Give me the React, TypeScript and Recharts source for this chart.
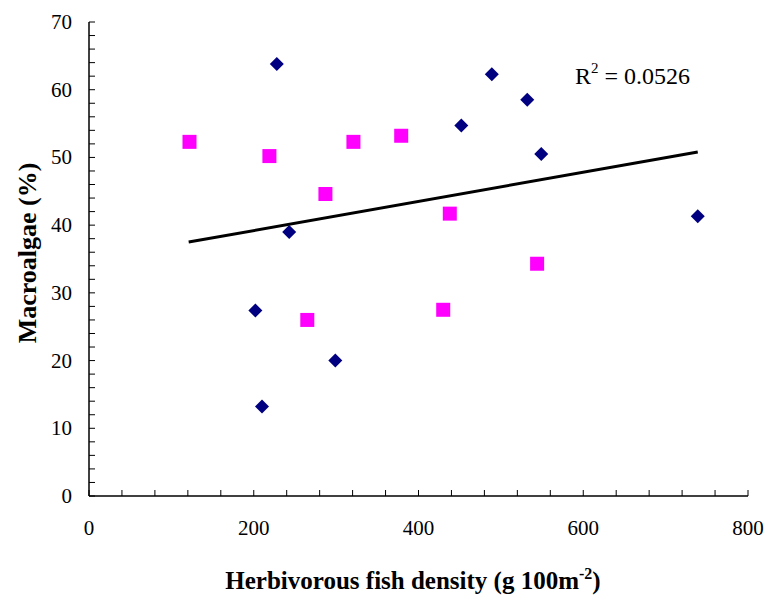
import React from "react";
import { ScatterChart, Scatter, XAxis, YAxis } from "recharts";

// Series 1 (navy diamonds)
const diamondX = [228, 489, 532, 452, 549, 739, 243, 202, 210, 299];
const diamondY = [63.8, 62.3, 58.5, 54.7, 50.5, 41.3, 39.0, 27.4, 13.2, 20.0];
// Series 2 (magenta squares)
const squareX = [122, 219, 321, 287, 379, 438, 544, 430, 265];
const squareY = [52.3, 50.2, 52.3, 44.6, 53.2, 41.7, 34.3, 27.5, 26.0];
// linear trend endpoints
const trendX = [121, 739];
const trendY = [37.5, 50.8];

const xTicks = [0, 40, 80, 120, 160, 200, 240, 280, 320, 360, 400, 440, 480, 520, 560, 600, 640, 680, 720, 760, 800];
const yTicks = [0, 2, 4, 6, 8, 10, 12, 14, 16, 18, 20, 22, 24, 26, 28, 30, 32, 34, 36, 38, 40, 42, 44, 46, 48, 50, 52, 54, 56, 58, 60, 62, 64, 66, 68, 70];

const diamonds = diamondX.map((x, i) => ({ x, y: diamondY[i] }));
const squares = squareX.map((x, i) => ({ x, y: squareY[i] }));
const trend = trendX.map((x, i) => ({ x, y: trendY[i] }));

const serif = { fontFamily: "Liberation Serif, Times New Roman, DejaVu Serif, serif" };

const Diamond = (p: any) => (
  <path d={`M${p.cx},${p.cy - 7}L${p.cx + 7},${p.cy}L${p.cx},${p.cy + 7}L${p.cx - 7},${p.cy}Z`} fill="#000080" />
);
const Square = (p: any) => <rect x={p.cx - 7} y={p.cy - 7} width={14} height={14} fill="#FF00FF" />;
const NoDot = () => <g />;

const YTick = ({ x, y, payload }: any) => (
  <g>
    <line x1={x} x2={x + 6} y1={y} y2={y} stroke="#000" />
    {payload.value % 10 === 0 && (
      <text x={x - 17} y={y + 7} textAnchor="end" style={serif} fontSize={21} fill="#000">
        {payload.value}
      </text>
    )}
  </g>
);

const XTick = ({ x, y, payload }: any) => (
  <g>
    <line x1={x} x2={x} y1={y} y2={y - 6} stroke="#000" />
    {payload.value % 200 === 0 && (
      <text x={x} y={y + 39} textAnchor="middle" style={serif} fontSize={21} fill="#000">
        {payload.value}
      </text>
    )}
  </g>
);

export default function App() {
  return (
    <div style={{ position: "absolute", left: 0, top: 0, width: 768, height: 601, background: "#fff" }}>
      <ScatterChart width={768} height={601} margin={{ top: 22, right: 20, left: 0, bottom: 0 }}>
        <XAxis
          type="number"
          dataKey="x"
          domain={[0, 800]}
          ticks={xTicks}
          interval={0}
          height={105}
          tickSize={0}
          tickMargin={0}
          tickLine={false}
          axisLine={{ stroke: "#000", strokeWidth: 1.5 }}
          tick={<XTick />}
        />
        <YAxis
          type="number"
          dataKey="y"
          domain={[0, 70]}
          ticks={yTicks}
          interval={0}
          width={89}
          tickSize={0}
          tickMargin={0}
          tickLine={false}
          axisLine={{ stroke: "#000", strokeWidth: 1.5 }}
          tick={<YTick />}
        />
        <Scatter data={trend} line={{ stroke: "#000", strokeWidth: 3 }} shape={<NoDot />} isAnimationActive={false} />
        <Scatter data={diamonds} shape={<Diamond />} isAnimationActive={false} />
        <Scatter data={squares} shape={<Square />} isAnimationActive={false} />
      </ScatterChart>
      <svg width={768} height={601} style={{ position: "absolute", left: 0, top: 0, pointerEvents: "none" }}>
        <text x={575} y={84} style={serif} fontSize={24} fill="#000">
          R<tspan dy={-11} fontSize={15}>2</tspan>
          <tspan dy={11}> = 0.0526</tspan>
        </text>
        <text x={413} y={589} textAnchor="middle" style={serif} fontSize={25} fontWeight="bold" fill="#000">
          Herbivorous fish density (g 100m<tspan dy={-10} fontSize={16}>-2</tspan>
          <tspan dy={10}>)</tspan>
        </text>
        <text
          transform="translate(36,253) rotate(-90)"
          textAnchor="middle"
          style={serif}
          fontSize={26}
          fontWeight="bold"
          fill="#000"
        >
          Macroalgae (%)
        </text>
      </svg>
    </div>
  );
}
